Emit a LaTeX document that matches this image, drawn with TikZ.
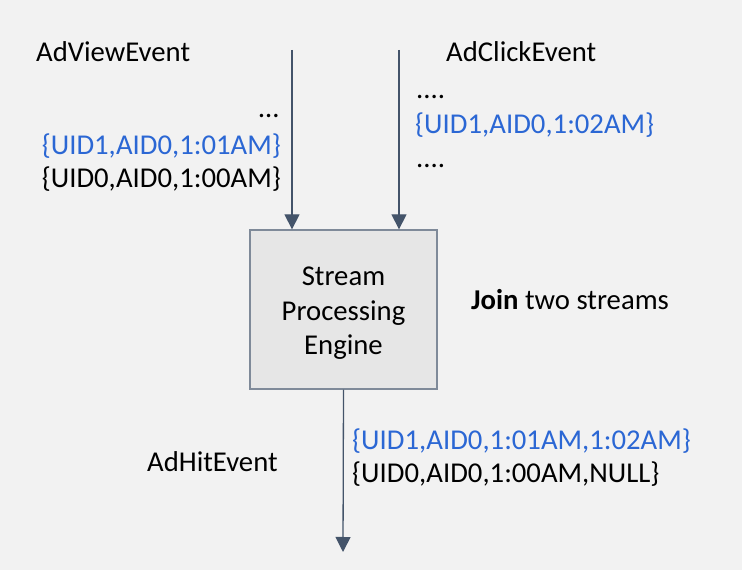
\documentclass[tikz,border=0pt]{standalone}
\usepackage{fontspec}
\setmainfont{Carlito}
\usepackage{tikz}
\usetikzlibrary{positioning, arrows.meta}
\definecolor{bggray}{HTML}{F2F2F2}
\definecolor{boxgray}{HTML}{E6E6E6}
\definecolor{boxline}{HTML}{7F8A99}
\definecolor{arrowslate}{HTML}{44546A}
\definecolor{evblue}{HTML}{2B67D4}
\tikzset{engine/.style={
        draw=boxline,
        fill=boxgray,
        line width=1.3pt,
        rectangle,
        minimum width=187pt,
        minimum height=159pt
}}
\tikzset{label/.style={
        inner sep=0pt,
        text=black
}}
\tikzset{event/.style={label, text=evblue}}
\tikzset{streamedge/.style={draw=arrowslate, line width=1.3pt, -{Triangle[width=15pt,length=15pt]}}}

\begin{document}
\begin{tikzpicture}[x=1pt, y=1pt, every node/.style={font=\fontsize{28.7}{34.5}\selectfont}]
\useasboundingbox (0,0) rectangle (742,570);
\fill[bggray] (0,0) rectangle (742,570);

\node[engine] (eng) at (343.5,260.5) {};
\node[label, align=center, below=4pt of eng.center, anchor=center] (engtext) {Stream\\Processing\\Engine};

% input streams
\coordinate (viewin) at (292,520);
\coordinate (clickin) at (399,520);
\coordinate (hitout) at (343,18);

\node[label, anchor=base west] (view) at (36,508) {AdViewEvent};
\node[label, anchor=base east] (viewdots) at (279,452) {…};
\node[event, anchor=base east] (view1) at (281,415) {\{UID1,AID0,1:01AM\}};
\node[label, anchor=base east] (view0) at (281,382) {\{UID0,AID0,1:00AM\}};

\node[label, anchor=base west] (click) at (446,508) {AdClickEvent};
\node[label, anchor=base west] (clickdotsa) at (416,471) {....};
\node[event, anchor=base west] (click1) at (415,436) {\{UID1,AID0,1:02AM\}};
\node[label, anchor=base west] (clickdotsb) at (416,402) {....};

\node[label, anchor=base west] (join) at (471,260) {\textbf{Join} two streams};

% output stream
\node[label, anchor=base west] (hit) at (147,98) {AdHitEvent};
\node[event, anchor=base west] (hit1) at (352,120) {\{UID1,AID0,1:01AM,1:02AM\}};
\node[label, anchor=base west] (hit0) at (352,87) {\{UID0,AID0,1:00AM,NULL\}};

\draw[streamedge] (viewin) -- (viewin |- eng.north);
\draw[streamedge] (clickin) -- (clickin |- eng.north);
\draw[streamedge] (eng.south) -- (hitout);
\end{tikzpicture}
\end{document}
